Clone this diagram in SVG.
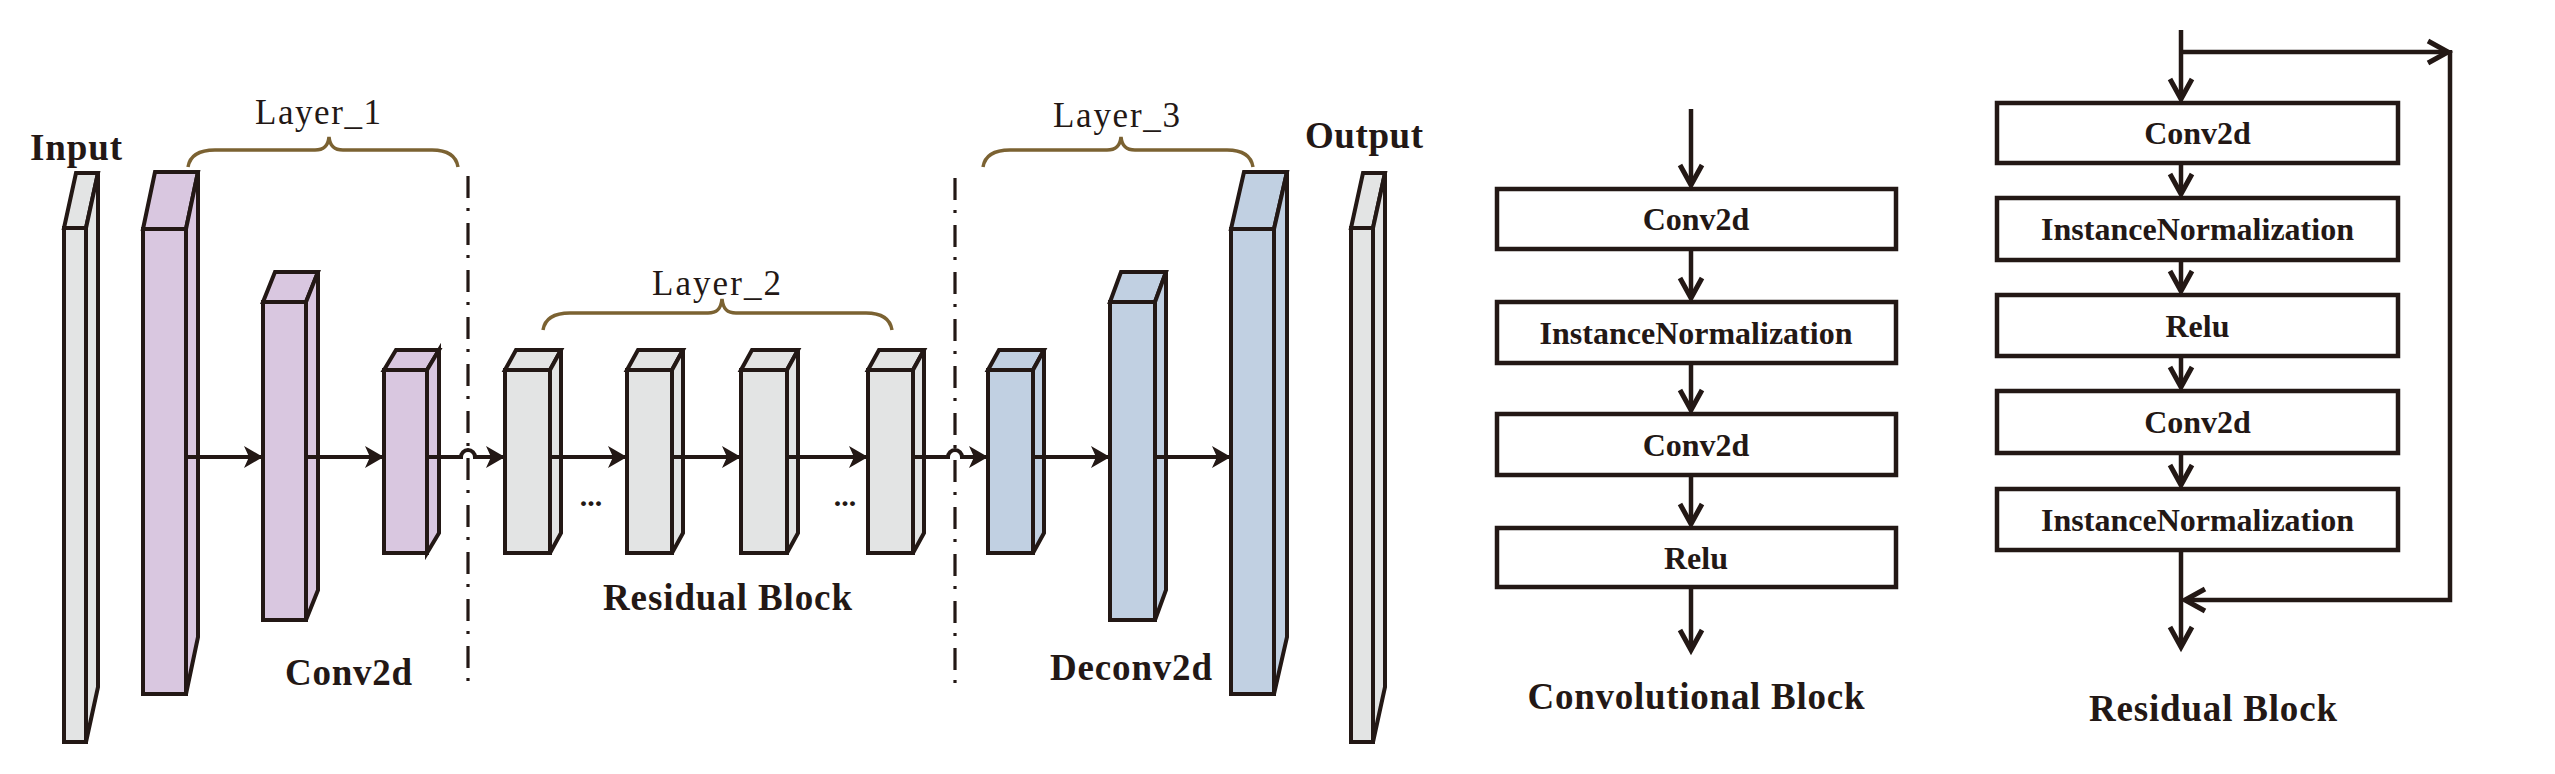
<svg xmlns="http://www.w3.org/2000/svg" width="2555" height="774" viewBox="0 0 2555 774">
<defs>
<marker id="stealth" markerUnits="userSpaceOnUse" markerWidth="22" markerHeight="24" refX="19" refY="11" orient="auto" overflow="visible">
<path d="M0,0 L19,11 L0,22 L5,11 Z" fill="#231815"/>
</marker>
<marker id="chev" markerUnits="userSpaceOnUse" markerWidth="24" markerHeight="26" refX="20" refY="11" orient="auto" overflow="visible">
<path d="M0,0 L20,11 L0,22" fill="none" stroke="#231815" stroke-width="5" stroke-linejoin="miter"/>
</marker>
</defs>
<style>
.cube{stroke:#231815;stroke-width:4;stroke-linejoin:miter}
.pur{fill:#d9c7e0}
.gry{fill:#e3e4e4}
.blu{fill:#c1d0e2}
.lbl{font-family:"Liberation Serif","Times New Roman",serif;font-weight:bold;font-size:37px;fill:#231815;text-anchor:middle}
.lyr{font-family:"Liberation Serif","Times New Roman",serif;font-weight:normal;font-size:35px;fill:#231815;text-anchor:middle}
.brace{fill:none;stroke:#7b6232;stroke-width:3.5}
.dd{stroke:#231815;stroke-width:3.2;stroke-dasharray:22 10 3 12;fill:none}
.arr{stroke:#231815;stroke-width:4;fill:none;marker-end:url(#stealth)}
.box{fill:#ffffff;stroke:#231815;stroke-width:4.5}
.flowa{stroke:#231815;stroke-width:4.5;fill:none;marker-end:url(#chev)}
.bt{font-family:"Liberation Serif","Times New Roman",serif;font-weight:bold;font-size:32px;fill:#231815;text-anchor:middle}
</style>
<rect x="0" y="0" width="2555" height="774" fill="#ffffff"/>

<g id="input">
<polygon class="cube gry" points="64,228 76,173 98,173 86,228"/>
<polygon class="cube gry" points="86,228 98,173 98,687 86,742"/>
<rect class="cube gry" x="64" y="228" width="22" height="514"/>
<text class="lbl" x="76" y="160" textLength="92">Input</text>
</g>
<g id="conv1">
<polygon class="cube pur" points="143,229 155,172 198,172 186,229"/>
<polygon class="cube pur" points="186,229 198,172 198,637 186,694"/>
<rect class="cube pur" x="143" y="229" width="43" height="465"/>
</g>
<g id="conv2">
<polygon class="cube pur" points="263,302 275,272 318,272 306,302"/>
<polygon class="cube pur" points="306,302 318,272 318,590 306,620"/>
<rect class="cube pur" x="263" y="302" width="43" height="318"/>
</g>
<g id="conv3">
<polygon class="cube pur" points="384,370 396,350 439,350 427,370"/>
<polygon class="cube pur" points="427,370 439,350 439,533 427,553"/>
<rect class="cube pur" x="384" y="370" width="43" height="183"/>
</g>
<g id="res1">
<polygon class="cube gry" points="505,370 516,350 561,350 550,370"/>
<polygon class="cube gry" points="550,370 561,350 561,533 550,553"/>
<rect class="cube gry" x="505" y="370" width="45" height="183"/>
</g>
<g id="res2">
<polygon class="cube gry" points="627,370 638,350 683,350 672,370"/>
<polygon class="cube gry" points="672,370 683,350 683,533 672,553"/>
<rect class="cube gry" x="627" y="370" width="45" height="183"/>
</g>
<g id="res3">
<polygon class="cube gry" points="741,370 752,350 798,350 787,370"/>
<polygon class="cube gry" points="787,370 798,350 798,533 787,553"/>
<rect class="cube gry" x="741" y="370" width="46" height="183"/>
</g>
<g id="res4">
<polygon class="cube gry" points="868,370 879,350 924,350 913,370"/>
<polygon class="cube gry" points="913,370 924,350 924,533 913,553"/>
<rect class="cube gry" x="868" y="370" width="45" height="183"/>
</g>
<g id="deconv1">
<polygon class="cube blu" points="988,370 999,350 1044,350 1033,370"/>
<polygon class="cube blu" points="1033,370 1044,350 1044,533 1033,553"/>
<rect class="cube blu" x="988" y="370" width="45" height="183"/>
</g>
<g id="deconv2">
<polygon class="cube blu" points="1110,302 1121,272 1166,272 1155,302"/>
<polygon class="cube blu" points="1155,302 1166,272 1166,590 1155,620"/>
<rect class="cube blu" x="1110" y="302" width="45" height="318"/>
</g>
<g id="deconv3">
<polygon class="cube blu" points="1231,229 1244,172 1287,172 1274,229"/>
<polygon class="cube blu" points="1274,229 1287,172 1287,637 1274,694"/>
<rect class="cube blu" x="1231" y="229" width="43" height="465"/>
</g>
<g id="output">
<polygon class="cube gry" points="1351,228 1363,173 1385,173 1373,228"/>
<polygon class="cube gry" points="1373,228 1385,173 1385,687 1373,742"/>
<rect class="cube gry" x="1351" y="228" width="22" height="514"/>
<text class="lbl" x="1364" y="148" textLength="118">Output</text>
</g>

<g id="layer1">
<path class="brace" d="M188,167 C190,155 200,150 215,150 L315,150 C324,150 328,146 329,137 C330,146 334,150 343,150 L432,150 C446,150 456,155 458,167"/>
<text class="lyr" x="318" y="124" textLength="126">Layer_1</text>
</g>
<g id="layer2">
<path class="brace" d="M543,330 C545,318 555,313 570,313 L708,313 C717,313 721,309 722,299 C723,309 727,313 736,313 L866,313 C880,313 890,318 892,330"/>
<text class="lyr" x="716.5" y="295" textLength="129">Layer_2</text>
</g>
<g id="layer3">
<path class="brace" d="M983,167 C985,155 995,150 1010,150 L1107,150 C1116,150 1120,146 1121,137 C1122,146 1126,150 1135,150 L1227,150 C1241,150 1251,155 1253,167"/>
<text class="lyr" x="1116.5" y="127" textLength="127">Layer_3</text>
</g>

<g id="labels">
<text class="lbl" x="348.5" y="685" textLength="127">Conv2d</text>
<text class="lbl" x="727.5" y="610" textLength="249">Residual Block</text>
<text class="lbl" x="1131" y="680" textLength="162">Deconv2d</text>
<text class="lbl" x="591" y="506" style="font-size:30px">...</text>
<text class="lbl" x="845" y="506" style="font-size:30px">...</text>
</g>

<g id="dividers">
<line class="dd" x1="468" y1="176" x2="468" y2="690"/>
<line class="dd" x1="955" y1="178" x2="955" y2="690"/>
</g>

<g id="conv-block">
<rect class="box" x="1497" y="189" width="399" height="60"/>
<text class="bt" x="1696" y="230">Conv2d</text>
<rect class="box" x="1497" y="302" width="399" height="61"/>
<text class="bt" x="1696" y="344">InstanceNormalization</text>
<rect class="box" x="1497" y="414" width="399" height="61"/>
<text class="bt" x="1696" y="456">Conv2d</text>
<rect class="box" x="1497" y="528" width="399" height="59"/>
<text class="bt" x="1696" y="569">Relu</text>
<text class="lbl" x="1696" y="709" textLength="337">Convolutional Block</text>
</g>

<g id="residual-block">
<rect class="box" x="1997" y="103" width="401" height="60"/>
<text class="bt" x="2197.5" y="144">Conv2d</text>
<rect class="box" x="1997" y="198" width="401" height="62"/>
<text class="bt" x="2197.5" y="240">InstanceNormalization</text>
<rect class="box" x="1997" y="295" width="401" height="61"/>
<text class="bt" x="2197.5" y="337">Relu</text>
<rect class="box" x="1997" y="391" width="401" height="62"/>
<text class="bt" x="2197.5" y="433">Conv2d</text>
<rect class="box" x="1997" y="489" width="401" height="61"/>
<text class="bt" x="2197.5" y="531">InstanceNormalization</text>
<text class="lbl" x="2213" y="721" textLength="248">Residual Block</text>
</g>

<g id="connectors">
<path class="arr" d="M186,457 H263"/>
<path class="arr" d="M306,457 H384"/>
<path class="arr" d="M427,457 H461 A7,7 0 0 1 475,457 H505"/>
<path class="arr" d="M550,457 H627"/>
<path class="arr" d="M672,457 H741"/>
<path class="arr" d="M787,457 H868"/>
<path class="arr" d="M913,457 H948 A7,7 0 0 1 962,457 H988"/>
<path class="arr" d="M1033,457 H1110"/>
<path class="arr" d="M1155,457 H1231"/>

<path class="flowa" d="M1691,109 V185"/>
<path class="flowa" d="M1691,249 V298"/>
<path class="flowa" d="M1691,363 V410"/>
<path class="flowa" d="M1691,475 V524"/>
<path class="flowa" d="M1691,587 V650"/>

<path class="flowa" d="M2181,30 V99"/>
<path class="flowa" d="M2181,163 V194"/>
<path class="flowa" d="M2181,260 V291"/>
<path class="flowa" d="M2181,356 V387"/>
<path class="flowa" d="M2181,453 V485"/>
<path class="flowa" d="M2181,550 V647"/>
<path class="flowa" d="M2181,52 H2448"/>
<path class="flowa" d="M2450,50 V600 H2185"/>
</g>
</svg>
